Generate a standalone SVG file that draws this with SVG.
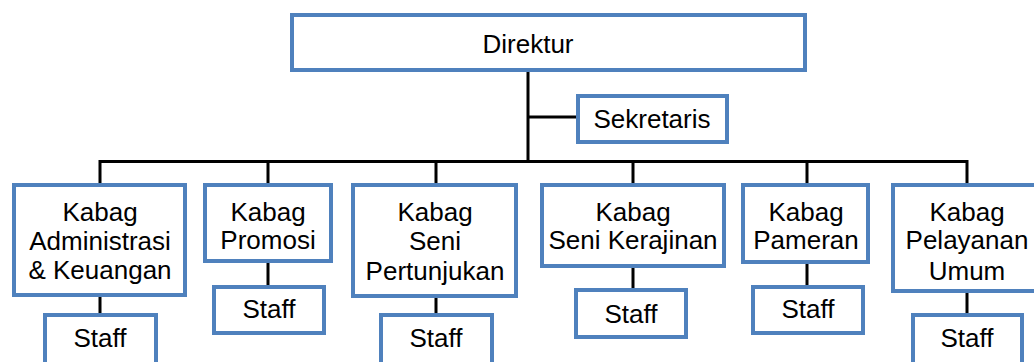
<svg xmlns="http://www.w3.org/2000/svg" width="1034" height="362" viewBox="0 0 1034 362">
<style>
.box{fill:#fff;stroke:#4f81bd;stroke-width:4}
.t{font-family:"Liberation Sans",Arial,sans-serif;font-size:26px;fill:#000;text-anchor:middle}
.c{stroke:#000;stroke-width:3;fill:none}
</style>
<rect width="1034" height="362" fill="#fff"/>
<g id="connectors">
<path class="c" d="M528,72V163M528,117H577M100,161.5H968M100,160V184M268,160V184M436,160V184M633,160V184M807,160V184M967,160V184"/>
<path class="c" d="M100,296V314M268,262V286M436,297V315M633,267V289M807,263V286M967,292V314"/>
</g>
<g id="direktur"><rect class="box" x="292" y="15" width="513" height="55"/><text class="t" x="528" y="53">Direktur</text></g>
<g id="sekretaris"><rect class="box" x="578" y="96" width="149" height="46"/><text class="t" x="652" y="128">Sekretaris</text></g>
<g id="admin"><rect class="box" x="14" y="185" width="171" height="110"/><text class="t" x="100" y="221">Kabag</text><text class="t" x="100" y="250">Administrasi</text><text class="t" x="100" y="279">&amp; Keuangan</text></g>
<g id="promosi"><rect class="box" x="205" y="185" width="126" height="76"/><text class="t" x="268" y="221">Kabag</text><text class="t" x="268" y="249">Promosi</text></g>
<g id="seni-pertunjukan"><rect class="box" x="353" y="185" width="163" height="111"/><text class="t" x="435" y="221">Kabag</text><text class="t" x="435" y="250">Seni</text><text class="t" x="435" y="280">Pertunjukan</text></g>
<g id="seni-kerajinan"><rect class="box" x="542" y="185" width="182" height="81"/><text class="t" x="633" y="221">Kabag</text><text class="t" x="633" y="249">Seni Kerajinan</text></g>
<g id="pameran"><rect class="box" x="743" y="185" width="125" height="77"/><text class="t" x="806" y="221">Kabag</text><text class="t" x="806" y="249">Pameran</text></g>
<g id="pelayanan"><rect class="box" x="893" y="185" width="148" height="106"/><text class="t" x="967" y="221">Kabag</text><text class="t" x="967" y="249">Pelayanan</text><text class="t" x="967" y="280">Umum</text></g>
<g id="staff-admin"><rect class="box" x="45" y="315" width="111" height="60"/><text class="t" x="100" y="347">Staff</text></g>
<g id="staff-promosi"><rect class="box" x="214" y="287" width="110" height="46"/><text class="t" x="269" y="318">Staff</text></g>
<g id="staff-seni-pertunjukan"><rect class="box" x="381" y="315" width="111" height="60"/><text class="t" x="436" y="347">Staff</text></g>
<g id="staff-seni-kerajinan"><rect class="box" x="576" y="290" width="110" height="47"/><text class="t" x="631" y="323">Staff</text></g>
<g id="staff-pameran"><rect class="box" x="753" y="287" width="110" height="46"/><text class="t" x="808" y="318">Staff</text></g>
<g id="staff-pelayanan"><rect class="box" x="913" y="315" width="109" height="60"/><text class="t" x="967" y="347">Staff</text></g>
</svg>
